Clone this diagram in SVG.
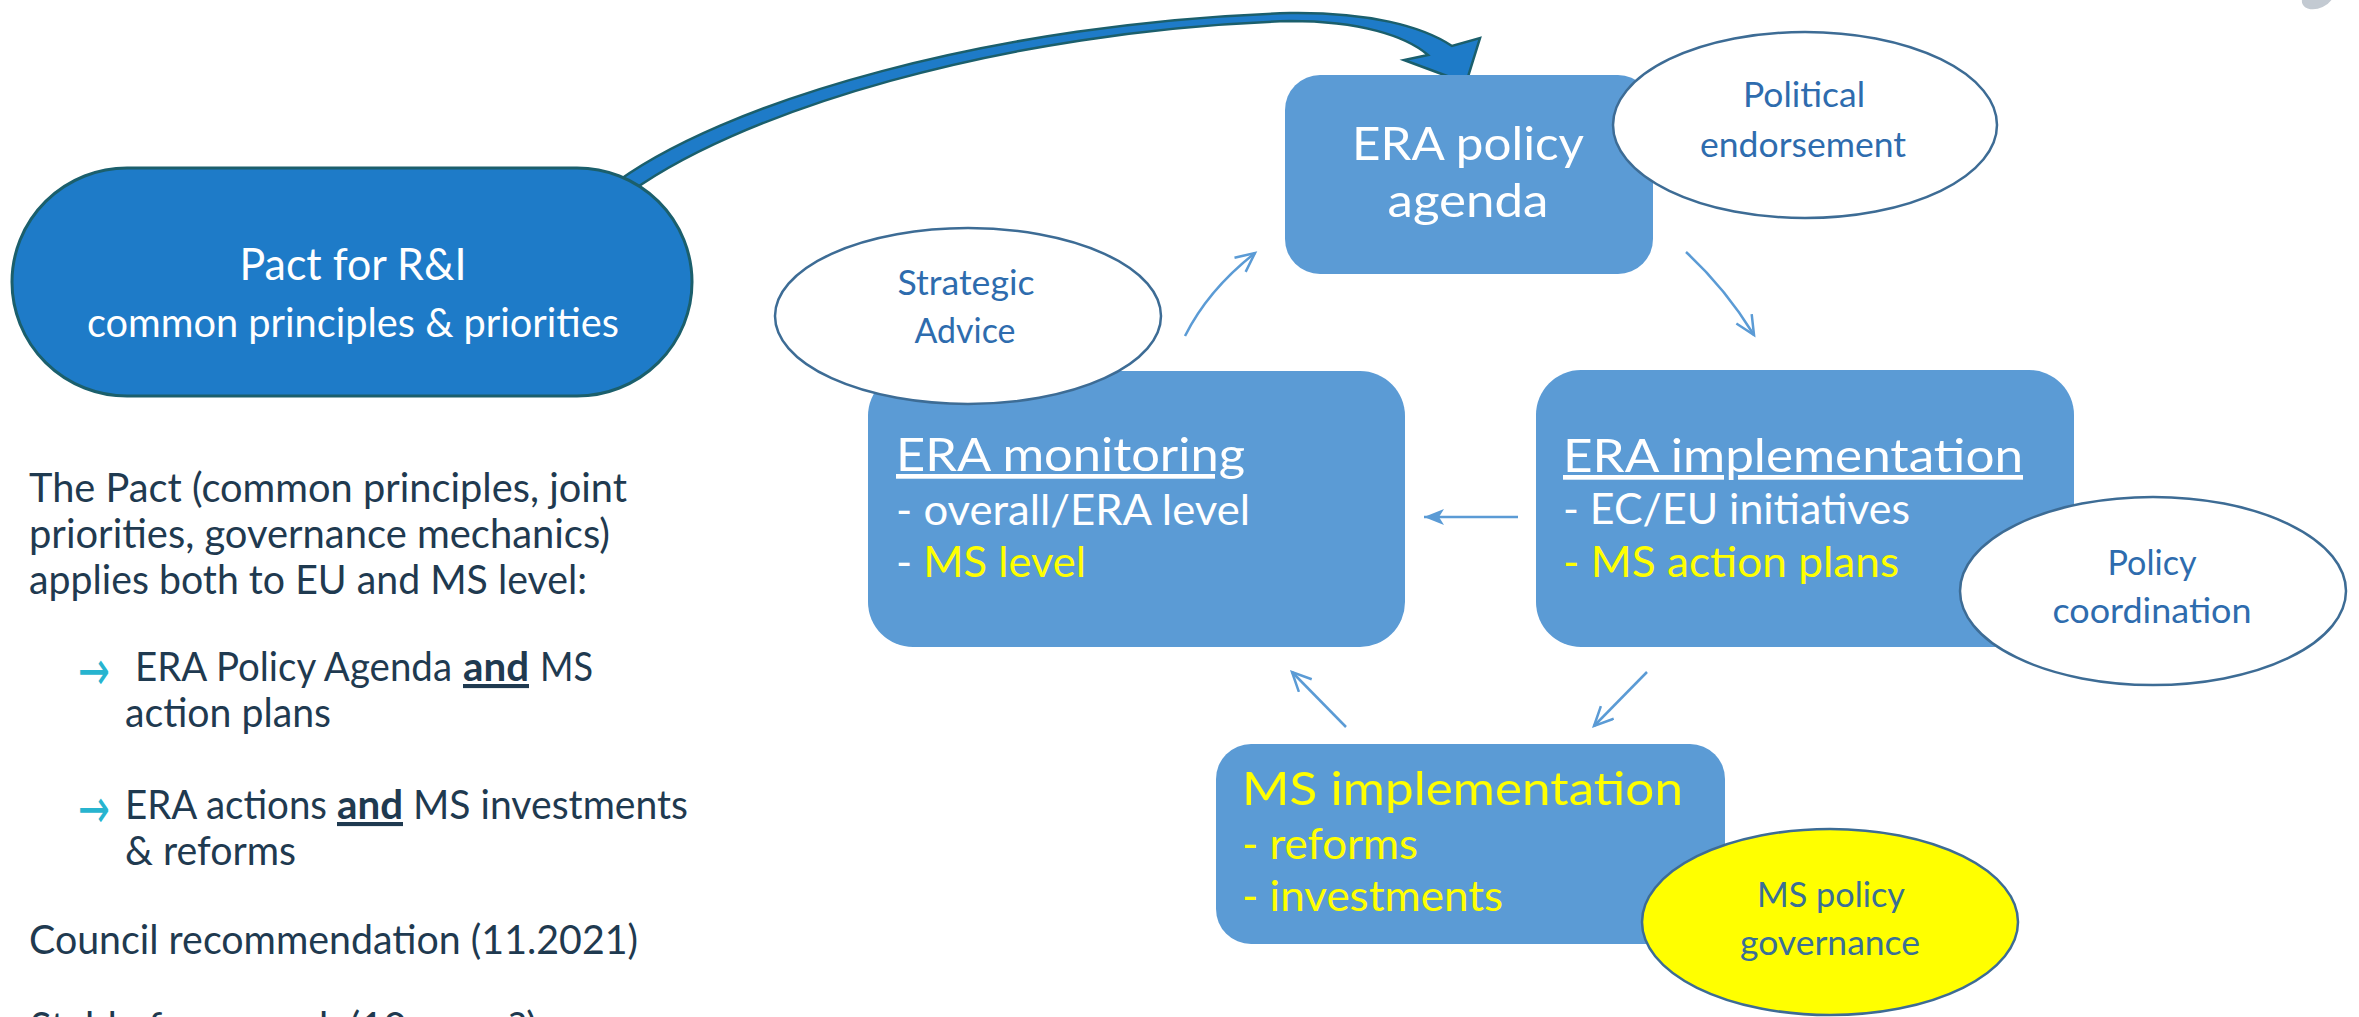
<svg xmlns="http://www.w3.org/2000/svg" width="2359" height="1017" viewBox="0 0 2359 1017">
<style>
  text { font-family: Lato, "Liberation Sans", "DejaVu Sans", sans-serif; }
  .body { font-size: 41px; fill: #1f3a50; }
  .b { font-weight: 700; text-decoration: underline; }
  .arr { font-family: "DejaVu Sans", sans-serif; font-size: 56px; fill: #27b4cf; }
  .pact { fill: #1e7bc8; stroke: #1b5f6c; stroke-width: 3; }
  .pt { fill: #ffffff; text-anchor: middle; }
  .box { fill: #5b9bd5; }
  .ell { fill: #ffffff; stroke: #3d6c95; stroke-width: 2.5; }
  .elly { fill: #ffff00; stroke: #3d6c95; stroke-width: 2.5; }
  .lbl { font-size: 35px; fill: #2e6cae; text-anchor: middle; }
  .lbly { font-size: 35px; fill: #3a6f96; text-anchor: middle; }
  .hd { font-size: 47px; fill: #ffffff; }
  .sub { font-size: 42px; fill: #ffffff; }
  .y { fill: #ffff00; }
  .u { text-decoration: underline; }
  .conn { fill: none; stroke: #5b9bd5; stroke-width: 2.5; marker-end: url(#open); }
  .connf { fill: none; stroke: #5b9bd5; stroke-width: 2.5; marker-end: url(#solid); }
  .big { fill: #1e7bc8; stroke: #1b5f6c; stroke-width: 2.5; stroke-linejoin: miter; }
</style>
<defs>
  <marker id="open" markerUnits="userSpaceOnUse" markerWidth="24" markerHeight="24" refX="20" refY="10" orient="auto" viewBox="0 0 24 24">
    <path d="M1,1 L20,10 L1,19" fill="none" stroke="#5b9bd5" stroke-width="2.5"/>
  </marker>
  <marker id="solid" markerUnits="userSpaceOnUse" markerWidth="24" markerHeight="20" refX="20" refY="8" orient="auto" viewBox="0 0 24 20">
    <path d="M0,0 L20,8 L0,16 L5,8 Z" fill="#5b9bd5"/>
  </marker>
</defs>

<g id="connectors">
  <path id="pact-to-agenda" class="big" d="M606,190 C720,100 1000,22 1290,13 C1368,12 1422,26 1452,46 L1480,38 L1466,83 L1404,60 L1428,55 C1406,36 1360,21 1290,21 C1005,30 732,112 620,200 Z"/>
  <path id="advice-to-agenda" class="conn" d="M1185,336 Q1208,290 1255,253"/>
  <path id="agenda-to-impl" class="conn" d="M1686,252 Q1725,288 1754,335"/>
  <path id="impl-to-monitoring" class="connf" d="M1518,517 L1424,517"/>
  <path id="impl-to-ms" class="conn" d="M1647,672 L1594,726"/>
  <path id="ms-to-monitoring" class="conn" d="M1346,727 L1292,672"/>
</g>

<g id="pact">
  <rect class="pact" x="12" y="168" width="680" height="228" rx="115" ry="114"/>
  <text class="pt" x="353" y="280" font-size="44" textLength="227" lengthAdjust="spacingAndGlyphs">Pact for R&amp;I</text>
  <text class="pt" x="353" y="337" font-size="40" textLength="532" lengthAdjust="spacingAndGlyphs">common principles &amp; priorities</text>
</g>

<g id="description">
  <text class="body" x="29" y="502" textLength="598" lengthAdjust="spacingAndGlyphs">The Pact (common principles, joint</text>
  <text class="body" x="29" y="548" textLength="581" lengthAdjust="spacingAndGlyphs">priorities, governance mechanics)</text>
  <text class="body" x="29" y="594" textLength="558" lengthAdjust="spacingAndGlyphs">applies both to EU and MS level:</text>
  <text class="arr" x="78" y="690" textLength="32" lengthAdjust="spacingAndGlyphs">→</text>
  <text class="body" x="135" y="681" textLength="317" lengthAdjust="spacingAndGlyphs">ERA Policy Agenda</text>
  <text class="body b" x="463" y="681" textLength="66" lengthAdjust="spacingAndGlyphs">and</text>
  <text class="body" x="540" y="681" textLength="53" lengthAdjust="spacingAndGlyphs">MS</text>
  <text class="body" x="125" y="727" textLength="206" lengthAdjust="spacingAndGlyphs">action plans</text>
  <text class="arr" x="78" y="828" textLength="32" lengthAdjust="spacingAndGlyphs">→</text>
  <text class="body" x="125" y="819" textLength="202" lengthAdjust="spacingAndGlyphs">ERA actions</text>
  <text class="body b" x="337" y="819" textLength="66" lengthAdjust="spacingAndGlyphs">and</text>
  <text class="body" x="413" y="819" textLength="275" lengthAdjust="spacingAndGlyphs">MS investments</text>
  <text class="body" x="125" y="865" textLength="171" lengthAdjust="spacingAndGlyphs">&amp; reforms</text>
  <text class="body" x="29" y="954" textLength="609" lengthAdjust="spacingAndGlyphs">Council recommendation (11.2021)</text>
  <text class="body" x="30" y="1041" textLength="507" lengthAdjust="spacingAndGlyphs">Stable framework (10 years?)</text>
</g>

<g id="era-policy-agenda">
  <rect class="box" x="1285" y="75" width="368" height="199" rx="35"/>
  <text class="hd" x="1468" y="160" text-anchor="middle" font-size="49" textLength="232" lengthAdjust="spacingAndGlyphs">ERA policy</text>
  <text class="hd" x="1468" y="217" text-anchor="middle" font-size="49" textLength="161" lengthAdjust="spacingAndGlyphs">agenda</text>
</g>
<g id="political-endorsement">
  <ellipse class="ell" cx="1805" cy="125" rx="192" ry="93"/>
  <text class="lbl" x="1804" y="107" textLength="122" lengthAdjust="spacingAndGlyphs">Political</text>
  <text class="lbl" x="1803" y="157" textLength="206" lengthAdjust="spacingAndGlyphs">endorsement</text>
</g>

<g id="era-monitoring">
  <rect class="box" x="868" y="371" width="537" height="276" rx="45"/>
  <text class="hd u" x="896" y="471" textLength="349" lengthAdjust="spacingAndGlyphs">ERA monitoring</text>
  <text class="sub" x="896" y="525" textLength="354" lengthAdjust="spacingAndGlyphs">- overall/ERA level</text>
  <text class="sub" x="896" y="577" textLength="190" lengthAdjust="spacingAndGlyphs">- <tspan class="y">MS level</tspan></text>
</g>
<g id="strategic-advice">
  <ellipse class="ell" cx="968" cy="316" rx="193" ry="88"/>
  <text class="lbl" x="966" y="295" textLength="137" lengthAdjust="spacingAndGlyphs">Strategic</text>
  <text class="lbl" x="965" y="343" textLength="101" lengthAdjust="spacingAndGlyphs">Advice</text>
</g>

<g id="era-implementation">
  <rect class="box" x="1536" y="370" width="538" height="277" rx="45"/>
  <text class="hd u" x="1563" y="472" textLength="460" lengthAdjust="spacingAndGlyphs">ERA implementation</text>
  <text class="sub" x="1563" y="524" textLength="347" lengthAdjust="spacingAndGlyphs">- EC/EU initiatives</text>
  <text class="sub y" x="1563" y="577" textLength="336" lengthAdjust="spacingAndGlyphs">- MS action plans</text>
</g>
<g id="policy-coordination">
  <ellipse class="ell" cx="2153" cy="591" rx="193" ry="94"/>
  <text class="lbl" x="2152" y="575" textLength="89" lengthAdjust="spacingAndGlyphs">Policy</text>
  <text class="lbl" x="2152" y="623" textLength="199" lengthAdjust="spacingAndGlyphs">coordination</text>
</g>

<g id="ms-implementation">
  <rect class="box" x="1216" y="744" width="509" height="200" rx="35"/>
  <text class="hd y" x="1242" y="805" font-size="49" textLength="441" lengthAdjust="spacingAndGlyphs">MS implementation</text>
  <text class="sub y" x="1242" y="859" textLength="176" lengthAdjust="spacingAndGlyphs">- reforms</text>
  <text class="sub y" x="1242" y="911" textLength="261" lengthAdjust="spacingAndGlyphs">- investments</text>
</g>
<g id="ms-policy-governance">
  <ellipse class="elly" cx="1830" cy="922" rx="188" ry="93"/>
  <text class="lbly" x="1831" y="907" textLength="148" lengthAdjust="spacingAndGlyphs">MS policy</text>
  <text class="lbly" x="1830" y="955" textLength="180" lengthAdjust="spacingAndGlyphs">governance</text>
</g>

<ellipse id="corner-mark" cx="2318" cy="-3" rx="17" ry="11" fill="#c3cad2" transform="rotate(-25 2318 -3)"/>
</svg>
